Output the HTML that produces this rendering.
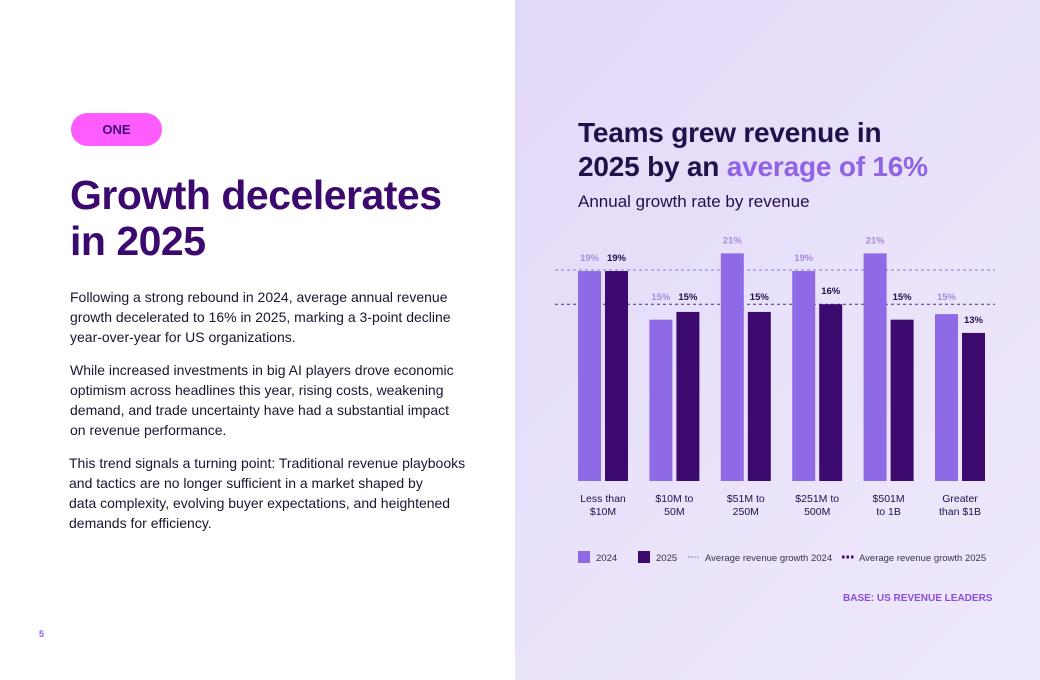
<!DOCTYPE html>
<html><head><meta charset="utf-8"><style>
body{margin:0;width:1040px;height:680px;overflow:hidden;font-family:"Liberation Sans",sans-serif;background:#fff;position:relative}
.abs{position:absolute}
#right{left:515px;top:0;width:525px;height:680px;background:linear-gradient(135deg,#e2d8f8 0%,#e9e2fa 50%,#efe9fc 100%)}
.p{left:70px;width:420px;font-size:14px;line-height:20px;color:#1c1530;margin:0;white-space:nowrap}
</style></head><body>
<div class="abs" id="right"></div>
<div class="abs" style="left:71px;top:113px;width:91px;height:33px;border-radius:17px;background:#ff5cff;color:#3c0a6e;font-weight:bold;font-size:13px;line-height:33px;text-align:center">ONE</div>
<div class="abs" style="left:70px;top:172px;font-size:41px;line-height:46px;font-weight:bold;color:#3c0a6e;letter-spacing:-0.5px">Growth decelerates<br>in 2025</div>
<p class="abs p" style="top:287px">Following a strong rebound in 2024, average annual revenue<br>growth decelerated to 16% in 2025, marking a 3-point decline<br>year-over-year for US organizations.</p>
<p class="abs p" style="top:360px">While increased investments in big AI players drove economic<br>optimism across headlines this year, rising costs, weakening<br>demand, and trade uncertainty have had a substantial impact<br>on revenue performance.</p>
<p class="abs p" style="top:453px;left:69px">This trend signals a turning point: Traditional revenue playbooks<br>and tactics are no longer sufficient in a market shaped by<br>data complexity, evolving buyer expectations, and heightened<br>demands for efficiency.</p>
<div class="abs" style="left:39px;top:629px;font-size:9px;font-weight:bold;color:#8a5ae6">5</div>
<div class="abs" style="left:578px;top:116px;font-size:28px;line-height:34px;font-weight:bold;color:#22104a;letter-spacing:-0.2px">Teams grew revenue in<br>2025 by an <span style="color:#8f63e6">average of 16%</span></div>
<div class="abs" style="left:578px;top:192px;font-size:17px;color:#22104a">Annual growth rate by revenue</div>
<svg class="abs" id="chart" style="left:0;top:0" width="1040" height="680"></svg>
<div class="abs" style="left:843px;top:593px;font-size:10px;font-weight:bold;color:#8a4fe0">BASE: US REVENUE LEADERS</div>
<script>
const categories=[["Less than","$10M"],["$10M to","50M"],["$51M to","250M"],["$251M to","500M"],["$501M","to 1B"],["Greater","than $1B"]];
const values2024=[19,14.6,20.6,19,20.6,15.1];
const values2025=[19,15.3,15.3,16,14.6,13.4];
const labels2024=["19%","15%","21%","19%","21%","15%"];
const labels2025=["19%","15%","15%","16%","15%","13%"];
const avg2024=19.1, avg2025=16;
const NS="http://www.w3.org/2000/svg",svg=document.getElementById('chart');
const base=481,scale=11.05,x0=603,step=71.4;
const y=v=>base-v*scale, cx=i=>x0+i*step;
const ly=v=>{const t=y(v),line=y(avg2025);return (t>line&&t-line<20)?line-4:t-10;};
function mk(t,a,txt){const e=document.createElementNS(NS,t);for(const k in a)e.setAttribute(k,a[k]);if(txt!=null)e.textContent=txt;svg.appendChild(e);return e;}
const l1=mk('line',{x1:555,x2:995,y1:y(avg2024),y2:y(avg2024),stroke:'#8f78c8','stroke-width':1,'stroke-dasharray':'3,3'});


const l2=mk('line',{x1:555,x2:995,y1:y(avg2025),y2:y(avg2025),stroke:'#4a2a80','stroke-width':1,'stroke-dasharray':'3,3'});


categories.forEach((c,i)=>{
 const a=mk('rect',{x:cx(i)-25,y:y(values2024[i]),width:23,height:base-y(values2024[i]),fill:'#8f6ae6'});
 
 
 const b=mk('rect',{x:cx(i)+2,y:y(values2025[i]),width:23,height:base-y(values2025[i]),fill:'#3c0a6e'});
 
 
 const t1=mk('text',{x:cx(i)-13.5,y:ly(values2024[i]),'text-anchor':'middle','font-size':9.5,'font-weight':'bold',fill:'#a58de0'},labels2024[i]);
 
 
 const t2=mk('text',{x:cx(i)+13.5,y:ly(values2025[i]),'text-anchor':'middle','font-size':9.5,'font-weight':'bold',fill:'#22104a'},labels2025[i]);
 
 
 c.forEach((s,j)=>{const t=mk('text',{x:cx(i),y:502+j*13,'text-anchor':'middle','font-size':10.5,fill:'#22104a'},s);
 
 });
});
const lg=[[578,'#8f6ae6','2024','rect'],[638,'#3c0a6e','2025','rect'],[688,'#9b83d8','Average revenue growth 2024','dash1'],[842,'#3c0a6e','Average revenue growth 2025','dash2']];
lg.forEach(([x,col,txt,k])=>{
 let m;
 if(k==='rect')m=mk('rect',{x:x,y:551,width:12,height:12,fill:col});
 else m=mk('line',{x1:x,x2:x+12,y1:557,y2:557,stroke:col,'stroke-width':k==='dash1'?1.5:3,'stroke-dasharray':k==='dash1'?'1.5,1.5':'2.5,2'});
 
 
 const t=mk('text',{x:x+(k==='rect'?18:17),y:561,'font-size':9.5,fill:'#3a3050'},txt);
 
 
});
</script>
</body></html>
